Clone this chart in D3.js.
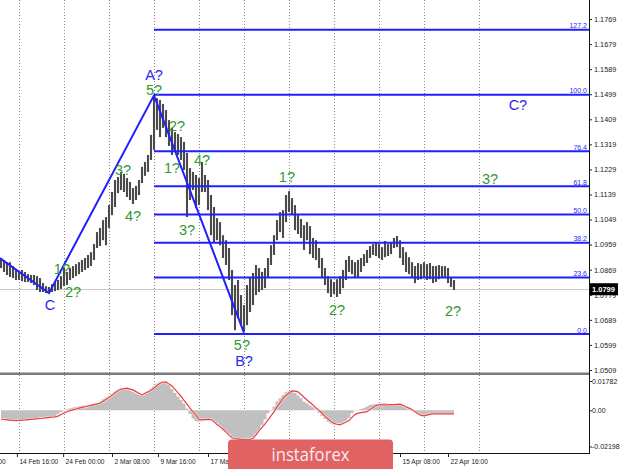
<!DOCTYPE html>
<html><head><meta charset="utf-8">
<script src="https://cdn.jsdelivr.net/npm/d3@7/dist/d3.min.js"></script>
<style>body{margin:0;background:#fff;} svg{display:block;}</style>
</head><body>
<svg id="c" width="620" height="469"></svg>
<script>
// ---------- DATA ----------
const highs = [
1.0911,1.0904,1.0896,1.0896,1.0882,1.0868,1.0861,1.0868,1.0861,1.0853,
1.0850,1.0850,1.0846,1.0839,1.0821,1.0810,1.0807,1.0817,1.0825,1.0832,
1.0846,1.0875,1.0861,1.0875,1.0882,1.0889,1.0896,1.0904,1.0911,1.0922,
1.0932,1.0961,1.1004,1.1019,1.1047,1.1058,1.1101,1.1148,1.1191,1.1202,
1.1220,1.1213,1.1198,1.1184,1.1162,1.1170,1.1191,1.1238,1.1256,1.1281,
1.1353,1.1489,1.1485,1.1478,1.1464,1.1442,1.1406,1.1378,1.1363,1.1356,
1.1345,1.1328,1.1288,1.1234,1.1220,1.1209,1.1198,1.1256,1.1209,1.1191,
1.1137,1.1094,1.1054,1.1040,1.0993,1.0975,1.0947,1.0868,1.0814,1.0832,
1.0778,1.0742,1.0814,1.0839,1.0857,1.0886,1.0875,1.0861,1.0875,1.0911,
1.0957,1.0993,1.1047,1.1076,1.1083,1.1137,1.1151,1.1126,1.1101,1.1065,
1.1051,1.1029,1.1040,1.1026,1.0983,1.0975,1.0947,1.0911,1.0875,1.0846,
1.0835,1.0825,1.0835,1.0846,1.0868,1.0904,1.0918,1.0904,1.0896,1.0904,
1.0911,1.0925,1.0940,1.0954,1.0961,1.0965,1.0961,1.0950,1.0972,1.0961,
1.0968,1.0983,1.0990,1.0975,1.0950,1.0932,1.0914,1.0896,1.0882,1.0893,
1.0889,1.0896,1.0889,1.0893,1.0882,1.0882,1.0886,1.0882,1.0882,1.0875,
1.0839,1.0832];
const lows = [
1.0875,1.0861,1.0850,1.0843,1.0839,1.0832,1.0832,1.0828,1.0825,1.0825,
1.0821,1.0814,1.0796,1.0789,1.0789,1.0785,1.0785,1.0789,1.0792,1.0796,
1.0800,1.0810,1.0814,1.0832,1.0839,1.0846,1.0853,1.0861,1.0868,1.0875,
1.0882,1.0904,1.0947,1.0954,1.0975,1.0957,1.1019,1.1065,1.1094,1.1144,
1.1155,1.1148,1.1130,1.1119,1.1105,1.1119,1.1137,1.1180,1.1206,1.1220,
1.1263,1.1299,1.1371,1.1345,1.1378,1.1345,1.1313,1.1281,1.1299,1.1281,
1.1263,1.1227,1.1058,1.1119,1.1155,1.1090,1.1101,1.1148,1.1148,1.1083,
1.0993,1.0965,1.0975,1.0957,1.0911,1.0886,1.0832,1.0706,1.0652,1.0695,
1.0670,1.0649,1.0670,1.0717,1.0742,1.0778,1.0789,1.0796,1.0803,1.0839,
1.0886,1.0922,1.0975,1.1004,1.0983,1.1040,1.1076,1.1069,1.1011,1.0997,
1.0983,1.0940,1.0975,1.0925,1.0911,1.0904,1.0875,1.0839,1.0814,1.0785,
1.0771,1.0782,1.0771,1.0782,1.0803,1.0832,1.0861,1.0853,1.0843,1.0843,
1.0861,1.0882,1.0893,1.0911,1.0922,1.0918,1.0911,1.0904,1.0914,1.0918,
1.0925,1.0947,1.0950,1.0911,1.0886,1.0861,1.0853,1.0839,1.0821,1.0832,
1.0835,1.0843,1.0832,1.0835,1.0821,1.0825,1.0835,1.0839,1.0839,1.0821,
1.0807,1.0796];
const lastPrice = 1.0799;
const priceTicks = [1.1769,1.1679,1.1589,1.1499,1.1409,1.1319,1.1229,1.1139,1.1049,1.0959,1.0869,1.0779,1.0689,1.0599,1.0509];

const macd = [
-0.00523,-0.00523,-0.00553,-0.00553,-0.00583,-0.00583,-0.00583,-0.00583,-0.00553,-0.00553,
-0.00523,-0.00523,-0.00492,-0.00462,-0.00462,-0.00431,-0.00401,-0.00371,-0.00340,-0.00219,
-0.00097,0.00024,0.00067,0.00115,0.00176,0.00207,0.00249,0.00279,0.00316,0.00340,
0.00371,0.00401,0.00431,0.00541,0.00674,0.00766,0.00857,0.00996,0.01148,0.01240,
0.01318,0.01343,0.01312,0.01221,0.01136,0.01039,0.00954,0.00966,0.01027,0.01148,
0.01331,0.01483,0.01634,0.01744,0.01780,0.01726,0.01543,0.01300,0.01057,0.00845,
0.00632,0.00419,0.00115,-0.00219,-0.00492,-0.00644,-0.00687,-0.00644,-0.00583,-0.00553,
-0.00583,-0.00674,-0.00784,-0.00978,-0.01191,-0.01343,-0.01464,-0.01647,-0.01707,-0.01756,
-0.01768,-0.01768,-0.01768,-0.01756,-0.01616,-0.01464,-0.01191,-0.00887,-0.00553,-0.00176,
-0.00024,0.00237,0.00529,0.00735,0.00936,0.01100,0.01197,0.01179,0.01057,0.00905,
0.00753,0.00541,0.00431,0.00298,0.00188,0.00055,-0.00158,-0.00340,-0.00523,-0.00693,
-0.00796,-0.00857,-0.00887,-0.00857,-0.00784,-0.00644,-0.00462,-0.00158,-0.00006,0.00024,
0.00085,0.00146,0.00237,0.00328,0.00358,0.00389,0.00407,0.00431,0.00431,0.00407,
0.00389,0.00389,0.00389,0.00389,0.00346,0.00237,0.00085,-0.00036,-0.00158,-0.00219,
-0.00279,-0.00279,-0.00249,-0.00219,-0.00219,-0.00201,-0.00188,-0.00188,-0.00188,-0.00201,
-0.00219,-0.00219];
const signal = [
-0.00541,-0.00559,-0.00577,-0.00595,-0.00614,-0.00626,-0.00614,-0.00595,-0.00583,-0.00565,
-0.00547,-0.00535,-0.00516,-0.00498,-0.00480,-0.00456,-0.00431,-0.00413,-0.00395,-0.00352,
-0.00249,-0.00158,-0.00085,-0.00018,0.00024,0.00079,0.00134,0.00176,0.00219,0.00261,
0.00304,0.00346,0.00389,0.00431,0.00553,0.00674,0.00796,0.00924,0.01069,0.01203,
0.01294,0.01318,0.01343,0.01288,0.01240,0.01136,0.01039,0.00936,0.01033,0.01130,
0.01221,0.01361,0.01513,0.01647,0.01707,0.01732,0.01592,0.01483,0.01270,0.01057,
0.00857,0.00602,0.00371,0.00128,-0.00097,-0.00310,-0.00541,-0.00583,-0.00565,-0.00547,
-0.00559,-0.00687,-0.00857,-0.00990,-0.01154,-0.01312,-0.01507,-0.01665,-0.01713,-0.01738,
-0.01762,-0.01780,-0.01798,-0.01756,-0.01695,-0.01495,-0.01252,-0.01039,-0.00826,-0.00583,
-0.00340,-0.00097,0.00207,0.00450,0.00735,0.00905,0.01057,0.01179,0.01167,0.01124,
0.00966,0.00796,0.00632,0.00480,0.00328,0.00146,0.00012,-0.00176,-0.00371,-0.00529,
-0.00687,-0.00796,-0.00845,-0.00887,-0.00796,-0.00705,-0.00614,-0.00431,-0.00261,-0.00170,
-0.00140,-0.00109,-0.00079,0.00049,0.00176,0.00304,0.00328,0.00328,0.00328,0.00334,
0.00346,0.00352,0.00365,0.00371,0.00304,0.00219,0.00134,0.00049,-0.00079,-0.00213,
-0.00310,-0.00340,-0.00292,-0.00249,-0.00219,-0.00219,-0.00219,-0.00219,-0.00219,-0.00219,
-0.00219,-0.00219];
const macdTicks = [0.01782, 0.00, -0.02198];

// time labels visible in the reference (the ones under the watermark are hidden there)
const timeLabels = ["6 Feb 08:00","14 Feb 16:00","24 Feb 00:00","2 Mar 08:00","9 Mar 16:00","17 Mar 00:00","15 Apr 08:00","22 Apr 16:00"];
const timeLabelIdx = [-11, 5.3, 20.7, 37, 52.3, 69, 133, 149];
const gridIdx = [6, 21, 36, 51, 66, 81, 96, 111, 126, 141, 159.3];

const wavePoints = [[-0.4, 1.0911], [16, 1.0785], [51, 1.1495], [81, 1.0642]];
const fibRatios = [0, 23.6, 38.2, 50, 61.8, 76.4, 100, 127.2];
const fibLow = 1.0638, fibHigh = 1.1497, fibStartIdx = 51;

const waveLabels = [
 ["A?", 51, 1.1568, "b"], ["5?", 51, 1.1514, "g"], ["2?", 58.7, 1.1385, "g"],
 ["1?", 57, 1.1234, "g"], ["4?", 67, 1.1263, "g"], ["3?", 62, 1.1011, "g"],
 ["3?", 40.7, 1.1227, "g"], ["4?", 44, 1.1062, "g"], ["1?", 20.3, 1.0871, "g"],
 ["2?", 24, 1.0789, "g"], ["C", 16.3, 1.0742, "b"], ["1?", 95.3, 1.1202, "g"],
 ["2?", 112, 1.0724, "g"], ["2?", 150.7, 1.0721, "g"], ["5?", 80.3, 1.0598, "g"],
 ["B?", 81, 1.0541, "b"], ["3?", 163, 1.1194, "g"], ["C?", 172.3, 1.1460, "b"]
];

// ---------- LAYOUT ----------
const svg = d3.select("#c");
const AX = 589, MAIN_BOT = 372, IND_TOP = 376, IND_BOT = 453;
const N = highs.length;
const x = d3.scaleLinear().domain([0, N - 1]).range([1, 454]);
const y = d3.scaleLinear().domain([1.0509, 1.1769]).range([370, 19]);
const ym = d3.scaleLinear().domain([-0.02198, 0.01782]).range([446.5, 381]);
const BLUE = "#1f1fff", GREEN = "#2f9a2f", LBLUE = "#2a2af0";
const FONT = "'Liberation Sans', Arial, sans-serif";

const defs = svg.append("defs");
defs.append("clipPath").attr("id", "cm").append("rect").attr("x", 0).attr("y", 0).attr("width", AX).attr("height", MAIN_BOT);
defs.append("clipPath").attr("id", "ci").append("rect").attr("x", 0).attr("y", IND_TOP).attr("width", AX).attr("height", IND_BOT - IND_TOP);

// grid
svg.append("g").selectAll("line").data(gridIdx).join("line")
  .attr("x1", d => Math.round(x(d)) + 0.5).attr("x2", d => Math.round(x(d)) + 0.5)
  .attr("y1", 0).attr("y2", IND_BOT)
  .attr("stroke", "#8a8a8a").attr("stroke-width", 1).attr("stroke-dasharray", "1,2");

// current price line
svg.append("line").attr("x1", 0).attr("x2", AX).attr("y1", Math.round(y(lastPrice)) + 0.5).attr("y2", Math.round(y(lastPrice)) + 0.5)
  .attr("stroke", "#c8c8c8").attr("stroke-width", 1);

const main = svg.append("g").attr("clip-path", "url(#cm)");
// bars
main.append("g").selectAll("line").data(highs).join("line")
  .attr("x1", (d, i) => x(i)).attr("x2", (d, i) => x(i))
  .attr("y1", d => y(d)).attr("y2", (d, i) => y(lows[i]))
  .attr("stroke", "#4a4a4a").attr("stroke-width", 2.1);

// fibo
const fibG = main.append("g");
fibRatios.forEach(r => {
  const p = fibLow + r / 100 * (fibHigh - fibLow);
  fibG.append("line").attr("x1", x(fibStartIdx)).attr("x2", AX).attr("y1", y(p)).attr("y2", y(p))
    .attr("stroke", BLUE).attr("stroke-width", 2);
  fibG.append("text").attr("x", AX - 2).attr("y", y(p) - 1.5).attr("text-anchor", "end")
    .attr("font-family", FONT).attr("font-size", 7).attr("fill", BLUE).text(r.toFixed(1));
});

// wave line
main.append("path").datum(wavePoints)
  .attr("d", d3.line().x(d => x(d[0])).y(d => y(d[1])))
  .attr("fill", "none").attr("stroke", BLUE).attr("stroke-width", 2);

// wave labels
main.append("g").selectAll("text").data(waveLabels).join("text")
  .attr("x", d => x(d[1])).attr("y", d => y(d[2])).attr("text-anchor", "middle").attr("dominant-baseline", "central")
  .attr("font-family", FONT).attr("font-size", 14.5).attr("fill", d => d[3] === "b" ? LBLUE : GREEN).text(d => d[0]);

// separator
svg.append("rect").attr("x", 0).attr("y", 372.5).attr("width", AX).attr("height", 2.5).attr("fill", "#7a7a7a");

// indicator
const ind = svg.append("g").attr("clip-path", "url(#ci)");
ind.append("path").datum(macd)
  .attr("d", d3.area().curve(d3.curveStep).x((d, i) => x(i)).y0(ym(0)).y1(d => ym(d)))
  .attr("fill", "#c0c0c0");
const sigLine = d3.line().x((d, i) => x(i)).y(d => ym(d));
ind.append("path").datum(signal).attr("d", sigLine)
  .attr("fill", "none").attr("stroke", "#ffffff").attr("stroke-width", 2.4).attr("opacity", 0.7);
ind.append("path").datum(signal).attr("d", sigLine)
  .attr("fill", "none").attr("stroke", "#f03a3a").attr("stroke-width", 1.2);

// right axis price
const ay = svg.append("g").attr("transform", `translate(${AX},0)`)
  .call(d3.axisRight(y).tickValues(priceTicks).tickSize(3).tickSizeOuter(0).tickFormat(d3.format(".4f")));
ay.select(".domain").remove();
ay.selectAll("text").attr("font-family", FONT).attr("font-size", 7.3).attr("fill", "#222").attr("x", 5);
ay.selectAll("line").attr("stroke", "#222");
const am = svg.append("g").attr("transform", `translate(${AX},0)`)
  .call(d3.axisRight(ym).tickValues(macdTicks).tickSize(3).tickSizeOuter(0)
    .tickFormat(d => d === 0 ? "0.00" : d3.format(".5f")(d).replace("\u2212", "-")));
am.select(".domain").remove();
am.selectAll("text").attr("font-family", FONT).attr("font-size", 7).attr("fill", "#222").attr("x", 3);
am.selectAll("line").attr("stroke", "#222");
svg.append("line").attr("x1", AX + 0.5).attr("x2", AX + 0.5).attr("y1", 0).attr("y2", IND_BOT + 0.5).attr("stroke", "#111").attr("stroke-width", 1);

// bottom axis
const ax = svg.append("g").attr("transform", `translate(0,${IND_BOT})`)
  .call(d3.axisBottom(x).tickValues(timeLabelIdx).tickSize(4).tickSizeOuter(0).tickFormat((d, i) => timeLabels[i]));
ax.select(".domain").remove();
ax.selectAll("text").attr("font-family", FONT).attr("font-size", 6.6).attr("fill", "#222")
  .attr("text-anchor", "start").attr("dx", 2).attr("y", 6);
ax.selectAll("line").attr("stroke", "#222");
svg.append("line").attr("x1", 0).attr("x2", AX + 1).attr("y1", IND_BOT + 0.5).attr("y2", IND_BOT + 0.5).attr("stroke", "#111");

// last price box
const ly = y(lastPrice);
svg.append("rect").attr("x", AX + 1).attr("y", ly - 6).attr("width", 28).attr("height", 12).attr("fill", "#000");
svg.append("text").attr("x", AX + 3).attr("y", ly).attr("dominant-baseline", "central")
  .attr("font-family", FONT).attr("font-size", 7.5).attr("font-weight", "bold").attr("fill", "#fff").text(lastPrice.toFixed(4));

// watermark
svg.append("rect").attr("x", 228).attr("y", 439.5).attr("width", 165).attr("height", 40).attr("rx", 4).attr("fill", "#e06262");
svg.append("text").attr("x", 310.5).attr("y", 461).attr("text-anchor", "middle")
  .attr("font-family", "'Open Sans', sans-serif").attr("font-size", 19).attr("fill", "#fbe9e9")
  .attr("textLength", 78).attr("lengthAdjust", "spacingAndGlyphs").text("instaforex");
</script>
</body></html>
